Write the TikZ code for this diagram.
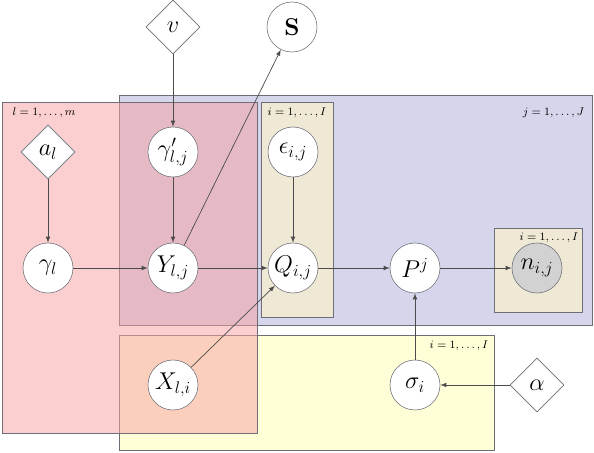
\documentclass[tikz,border=0pt]{standalone}
\usepackage{tikz}
\usetikzlibrary{shapes.geometric}
\usepackage{amsmath}
\definecolor{plblu}{HTML}{D5D5EC}
\definecolor{plsab}{HTML}{EEE8D4}
\definecolor{plgia}{HTML}{FFFFD7}
\definecolor{plros}{HTML}{F8A0A0}
\definecolor{bordo}{HTML}{6E6E78}

\begin{document}
\begin{tikzpicture}[x=0.025cm, y=-0.025cm, >=latex,
            every node/.style={font=\LARGE},
            var/.style={circle, draw=bordo, fill=white, minimum size=1.25cm, inner sep=0pt},
            oss/.style={var, fill=gray!35},
            par/.style={diamond, aspect=1, draw=bordo, fill=white, minimum size=1.35cm, inner sep=0pt},
            plate/.style={draw=bordo, line width=0.7pt},
            plab/.style={font=\footnotesize, inner sep=1pt},
            freccia/.style={->, draw=black!70, line width=0.5pt}]
        \useasboundingbox (0,0) rectangle (594,453);

        % Piatti
        \draw[plate, fill=plblu] (119,95) rectangle (592,325);
        \draw[plate, fill=plsab] (261,102) rectangle (333,317);
        \draw[plate, fill=plsab] (494,228) rectangle (582,312);
        \draw[plate, fill=plgia] (119,335) rectangle (494,450);
        \draw[plate, fill=plros, fill opacity=0.5] (2,102) rectangle (257,433);

        \node[plab, anchor=north west] (lm) at (11,106) {$l=1,\ldots,m$};
        \node[plab, anchor=north east] (jJ) at (586,106) {$j=1,\ldots,J$};
        \node[plab, anchor=north] (iI1) at (297,106) {$i=1,\ldots,I$};
        \node[plab, anchor=north east] (iI2) at (580,231) {$i=1,\ldots,I$};
        \node[plab, anchor=north east] (iI3) at (490,339) {$i=1,\ldots,I$};

        % Nodi
        \node[par] (v) at (173,27) {$v$};
        \node[var] (S) at (292,27) {$\mathbf{S}$};
        \node[par] (al) at (48,152) {$a_l$};
        \node[var] (gp) at (173,152) {$\gamma'_{l,j}$};
        \node[var] (eps) at (293,152) {$\epsilon_{i,j}$};
        \node[var] (gl) at (48,268) {$\gamma_l$};
        \node[var] (Y) at (173,268) {$Y_{l,j}$};
        \node[var] (Q) at (293,268) {$Q_{i,j}$};
        \node[var] (P) at (415,268) {$P^j$};
        \node[oss] (n) at (537,268) {$n_{i,j}$};
        \node[var] (X) at (173,385) {$X_{l,i}$};
        \node[var] (sig) at (415,385) {$\sigma_i$};
        \node[par] (alpha) at (537,385) {$\alpha$};

        % Archi
        \foreach \da/\a in {v/gp, al/gl, gp/Y, gl/Y, Y/Q, Y/S, eps/Q, X/Q, Q/P, P/n, sig/P, alpha/sig}
            \draw[freccia] (\da) -- (\a);
    \end{tikzpicture}
\end{document}
